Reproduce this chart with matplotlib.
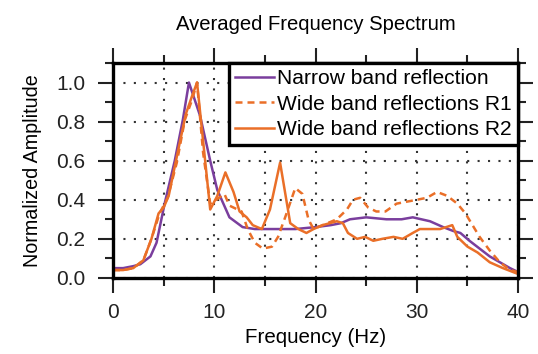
import matplotlib.pyplot as plt
from matplotlib.ticker import MultipleLocator

# ============================================================
# Data
# ============================================================

NARROW_F = [0, 1, 2, 2.7, 3.7, 4.3, 5.1, 6.1, 6.9, 7.5, 8.6, 9.6, 10.3, 11.5,
            12.8, 14, 16, 18, 20, 21.5, 22.5, 23.4, 25, 27, 28.5, 29.6, 31.3,
            32.6, 33.6, 34.3, 35.2, 36.2, 37.2, 38.2, 39.2, 40]
NARROW_A = [0.05, 0.05, 0.06, 0.07, 0.11, 0.18, 0.38, 0.6, 0.81, 1.0, 0.83,
            0.6, 0.45, 0.31, 0.26, 0.25, 0.25, 0.25, 0.26, 0.27, 0.28, 0.30,
            0.31, 0.30, 0.30, 0.31, 0.29, 0.26, 0.24, 0.23, 0.19, 0.15, 0.11,
            0.08, 0.05, 0.03]

R1_F = [0, 1, 2, 3, 3.8, 4.6, 5.4, 6.3, 7.1, 7.8, 8.3, 8.9, 9.6, 10.2, 11,
        11.5, 12.7, 13.3, 14, 14.8, 15.7, 16.3, 17, 18, 18.7, 19.3, 19.8,
        20.7, 22.1, 23.1, 23.7, 24.4, 25.2, 26, 26.9, 28, 29, 30, 31, 32, 33,
        34, 34.8, 35.5, 36.2, 37.2, 38.2, 39.2, 40]
R1_A = [0.04, 0.04, 0.05, 0.09, 0.2, 0.33, 0.41, 0.59, 0.81, 0.91, 1.0, 0.64,
        0.38, 0.4, 0.43, 0.37, 0.34, 0.25, 0.18, 0.15, 0.16, 0.21, 0.31, 0.46,
        0.43, 0.30, 0.25, 0.27, 0.30, 0.35, 0.40, 0.41, 0.36, 0.34, 0.34,
        0.38, 0.39, 0.40, 0.41, 0.44, 0.42, 0.38, 0.33, 0.27, 0.21, 0.14,
        0.08, 0.04, 0.03]

R2_F = [0, 1, 2, 3, 3.8, 4.5, 5.0, 5.5, 6.3, 7.2, 7.8, 8.3, 8.9, 9.6, 10.3,
        11.1, 11.9, 12.5, 13.2, 13.8, 14.7, 15.5, 16.5, 17.5, 18.3, 19.1,
        19.8, 20.7, 22.1, 22.7, 23.2, 24.1, 24.9, 25.7, 26.6, 27.7, 28.6,
        29.6, 30.3, 31.3, 32.3, 33.5, 34, 35, 36, 37.2, 38.5, 40]
R2_A = [0.04, 0.04, 0.05, 0.09, 0.2, 0.33, 0.36, 0.42, 0.62, 0.84, 0.93, 1.0,
        0.7, 0.35, 0.42, 0.54, 0.44, 0.34, 0.31, 0.27, 0.25, 0.35, 0.59, 0.28,
        0.25, 0.23, 0.25, 0.27, 0.29, 0.28, 0.23, 0.20, 0.21, 0.19, 0.20,
        0.21, 0.20, 0.23, 0.25, 0.25, 0.25, 0.27, 0.21, 0.16, 0.13, 0.08,
        0.05, 0.02]

LABELS = ["Narrow band reflection",
          "Wide band reflections R1",
          "Wide band reflections R2"]

PURPLE = "#7a3e9d"
ORANGE = "#ea6f28"

# ============================================================
# Plot
# ============================================================

plt.rcParams["font.family"] = ["Liberation Sans", "DejaVu Sans"]

fig = plt.figure(figsize=(5.38, 3.54), dpi=100)
ax = fig.add_axes([0.210, 0.215, 0.753, 0.607])

LW = 1.8
ax.plot(NARROW_F, NARROW_A, color=PURPLE, linewidth=LW, label=LABELS[0])
ax.plot(R1_F, R1_A, color=ORANGE, linewidth=LW, linestyle=(0, (2.8, 2)),
        label=LABELS[1])
ax.plot(R2_F, R2_A, color=ORANGE, linewidth=LW, label=LABELS[2])

ax.set_xlim(0, 40)
ax.set_ylim(0, 1.1)

ax.xaxis.set_major_locator(MultipleLocator(10))
ax.xaxis.set_minor_locator(MultipleLocator(5))
ax.yaxis.set_major_locator(MultipleLocator(0.2))
ax.yaxis.set_minor_locator(MultipleLocator(0.1))
ax.yaxis.set_major_formatter(lambda v, pos: f"{v:.1f}")

ax.tick_params(which="both", direction="out", top=True, right=True,
               labelsize=15, width=1.5, colors="#222222")
ax.tick_params(which="major", length=11)
ax.tick_params(which="minor", length=6)
ax.tick_params(axis="x", which="major", pad=7)
ax.tick_params(axis="y", which="major", pad=9)

for s in ax.spines.values():
    s.set_linewidth(2.4)

# Dotted grid
ax.grid(True, which="major", axis="y", color="#333333",
        linestyle=(0, (1, 4)), linewidth=1.5)
ax.grid(True, which="both", axis="x", color="#333333",
        linestyle=(0, (1, 4)), linewidth=1.5)

ax.set_xlabel("Frequency (Hz)", fontsize=14.8, labelpad=4.5)
ax.set_ylabel("Normalized Amplitude", fontsize=14.2, labelpad=10)
ax.set_title("Averaged Frequency Spectrum", fontsize=14.6, pad=24)

leg = ax.legend(loc="upper right", bbox_to_anchor=(1, 1), borderaxespad=0,
                fontsize=15.1, fancybox=False, framealpha=1,
                edgecolor="black", handlelength=1.85, handletextpad=0.15,
                labelspacing=0.3, borderpad=0.3)
leg.get_frame().set_linewidth(2.4)

plt.savefig("out.png", dpi=100)
